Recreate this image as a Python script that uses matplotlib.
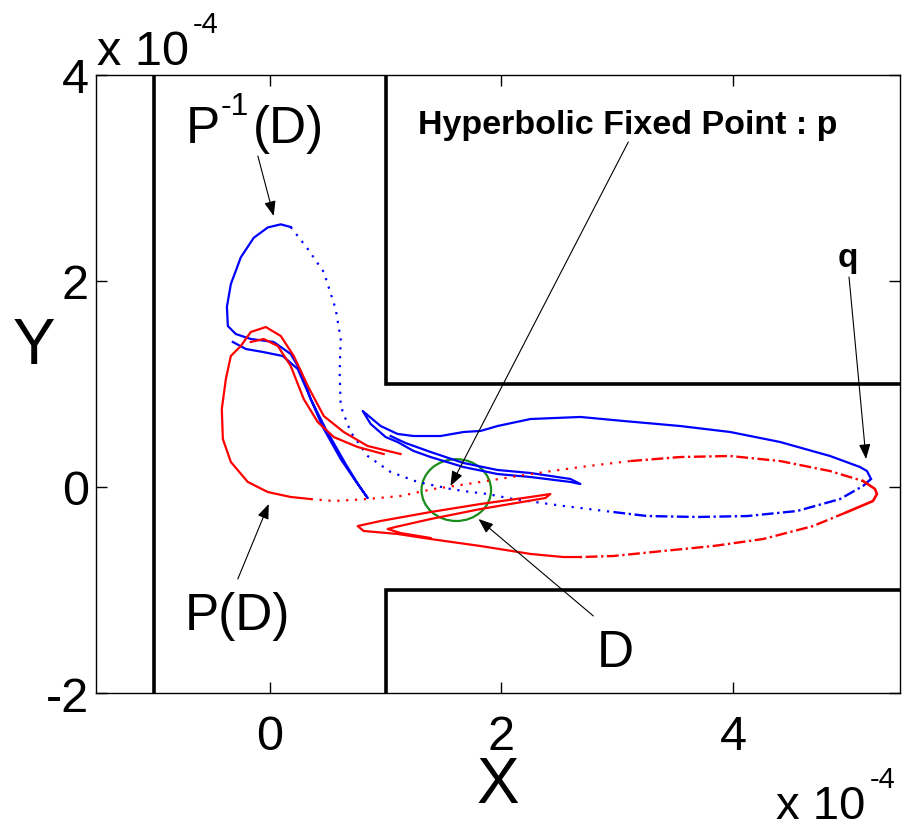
import numpy as np
import matplotlib
matplotlib.use('Agg')
import matplotlib.pyplot as plt
from matplotlib.patches import Ellipse

plt.rcParams['font.family'] = ['Liberation Sans', 'DejaVu Sans']
plt.rcParams['axes.unicode_minus'] = False

# all coordinates in units of 1e-4

# channel walls
wall_left_x = [-1, -1]
wall_left_y = [-2, 4]
wall_top_x = [1, 1, 6]
wall_top_y = [4, 1, 1]
wall_bot_x = [1, 1, 6]
wall_bot_y = [-2, -1, -1]

# P^-1(D): folded S piece, top lobe (solid part)
blue_s_x = [-0.319, -0.207, -0.06, 0.112, 0.241, 0.328, 0.457, 0.612, 0.741, 0.845,
            0.767, 0.655, 0.483, 0.353, 0.267, 0.181, 0.034, -0.164, -0.293, -0.362,
            -0.37, -0.336, -0.25, -0.138, -0.017, 0.095, 0.181]
blue_s_y = [1.408, 1.34, 1.311, 1.272, 1.146, 0.922, 0.583, 0.272, 0.058, -0.107,
            0.019, 0.223, 0.563, 0.854, 1.126, 1.291, 1.408, 1.437, 1.485, 1.563,
            1.75, 1.97, 2.23, 2.42, 2.52, 2.55, 2.524]
# sparse stretch through p
blue_dot_x = [0.181, 0.328, 0.466, 0.569, 0.612, 0.603, 0.612, 0.698, 0.845, 1.043,
              1.276, 1.56, 1.672, 1.879, 2.103, 2.534, 2.966]
blue_dot_y = [2.524, 2.311, 2.087, 1.728, 1.437, 1.117, 0.786, 0.534, 0.301, 0.146,
              0.049, -0.019, -0.039, -0.068, -0.117, -0.184, -0.243]
# lower half of the long lobe out to q
blue_dash_x = [2.966, 3.259, 3.69, 4.121, 4.552, 4.922, 5.121, 5.19]
blue_dash_y = [-0.243, -0.282, -0.291, -0.282, -0.233, -0.117, 0.01, 0.078]
# upper half back from q, hook and fold
blue_up_x = [5.19, 5.155, 5.095, 4.836, 4.405, 3.974, 3.543, 3.052, 2.681, 2.25,
             1.966, 1.819, 1.672, 1.474, 1.241, 1.103, 0.957, 0.802,
             0.871, 1.0, 1.103, 1.241, 1.388, 1.672, 1.966, 2.25, 2.595, 2.681,
             2.595, 2.25, 1.966, 1.672, 1.388, 1.172, 1.043]
blue_up_y = [0.078, 0.155, 0.194, 0.301, 0.437, 0.534, 0.592, 0.641, 0.68, 0.66,
             0.592, 0.544, 0.534, 0.495, 0.495, 0.515, 0.592, 0.738,
             0.612, 0.485, 0.437, 0.35, 0.291, 0.194, 0.126, 0.097, 0.049, 0.029,
             0.078, 0.136, 0.165, 0.233, 0.34, 0.427, 0.495]

# P(D): S piece and left lobe (solid)
red_s_x = [1.129, 0.845, 0.638, 0.466, 0.328, 0.207, 0.095, -0.034, -0.164, -0.25,
           -0.336, -0.379, -0.414, -0.405, -0.336, -0.19, -0.017, 0.181, 0.353]
red_s_y = [0.32, 0.398, 0.534, 0.689, 0.981, 1.272, 1.466, 1.553, 1.505, 1.369,
           1.272, 1.049, 0.757, 0.466, 0.243, 0.049, -0.049, -0.097, -0.117]
red_in_x = [0.983, 0.759, 0.552, 0.414, 0.293, 0.181, 0.069, -0.052, -0.164]
red_in_y = [0.32, 0.388, 0.485, 0.631, 0.854, 1.175, 1.369, 1.437, 1.408]
# sparse stretch through p
red_dot_x = [0.353, 0.552, 0.845, 1.129, 1.414, 1.534, 1.819, 2.25, 2.681, 3.112]
red_dot_y = [-0.117, -0.136, -0.117, -0.087, -0.019, 0.0, 0.049, 0.126, 0.194, 0.252]
red_dash_x = [3.112, 3.543, 3.974, 4.405, 4.836, 5.121]
red_dash_y = [0.252, 0.291, 0.301, 0.252, 0.155, 0.058]
red_tip_x = [5.121, 5.224, 5.241, 5.207, 4.983]
red_tip_y = [0.058, -0.019, -0.068, -0.136, -0.243]
red_low_x = [4.983, 4.69, 4.259, 3.828, 3.397, 2.966, 2.681]
red_low_y = [-0.243, -0.379, -0.505, -0.573, -0.621, -0.67, -0.68]
red_fold_x = [2.681, 2.534, 2.25, 1.819, 1.388, 1.103, 0.81, 0.759, 0.957, 1.388,
              1.819, 2.25, 2.422, 2.379, 1.819, 1.388, 1.086, 1.017, 1.129, 1.388]
red_fold_y = [-0.68, -0.68, -0.65, -0.573, -0.505, -0.456, -0.427, -0.379, -0.33, -0.243,
              -0.165, -0.097, -0.068, -0.107, -0.214, -0.311, -0.388, -0.408, -0.447, -0.495]

# neighbourhood D of the fixed point p
d_center = (1.61, -0.03)
d_size = (0.6, 0.6)

fig = plt.figure(figsize=(9.03, 8.29), dpi=100)
ax = fig.add_axes([96 / 903, 1 - 694 / 829, 804 / 903, 618 / 829])

for wx, wy in [(wall_left_x, wall_left_y), (wall_top_x, wall_top_y), (wall_bot_x, wall_bot_y)]:
    ax.plot(wx, wy, color='k', lw=2.6, solid_joinstyle='miter')

dots = (0, (1, 3))
dashdot = (0, (5, 1.5, 1, 1.5))
ax.plot(blue_s_x, blue_s_y, color='#0000ff', lw=1.6)
ax.plot(blue_dot_x, blue_dot_y, color='#0000ff', lw=1.6, ls=dots)
ax.plot(blue_dash_x, blue_dash_y, color='#0000ff', lw=1.7, ls=dashdot)
ax.plot(blue_up_x, blue_up_y, color='#0000ff', lw=1.6)

ax.plot(red_s_x, red_s_y, color='#ff0000', lw=1.6)
ax.plot(red_in_x, red_in_y, color='#ff0000', lw=1.6)
ax.plot(red_dot_x, red_dot_y, color='#ff0000', lw=1.6, ls=dots)
ax.plot(red_dash_x, red_dash_y, color='#ff0000', lw=1.7, ls=dashdot)
ax.plot(red_tip_x, red_tip_y, color='#ff0000', lw=1.9)
ax.plot(red_low_x, red_low_y, color='#ff0000', lw=1.7, ls=dashdot)
ax.plot(red_fold_x, red_fold_y, color='#ff0000', lw=1.6)

ax.add_patch(Ellipse(d_center, d_size[0], d_size[1], fill=False,
                     edgecolor='#1a8c1a', lw=1.6))

arrow = dict(arrowstyle='-|>,head_length=0.9,head_width=0.35', color='k',
             lw=0.8, shrinkA=0, shrinkB=0)
ax.annotate('', xy=(0.034, 2.631), xytext=(-0.103, 3.214), arrowprops=arrow)
ax.annotate('', xy=(1.56, 0.01), xytext=(3.095, 3.35), arrowprops=arrow)
ax.annotate('', xy=(5.147, 0.272), xytext=(5.0, 2.039), arrowprops=arrow)
ax.annotate('', xy=(-0.009, -0.165), xytext=(-0.276, -0.893), arrowprops=arrow)
ax.annotate('', xy=(1.802, -0.311), xytext=(2.793, -1.252), arrowprops=arrow)

# P^-1(D) built from pieces so the superscript keeps a plain hyphen
ax.text(-0.724, 3.35, 'P', fontsize=37, ha='left', va='baseline')
ax.text(-0.42, 3.62, '-1', fontsize=23, ha='left', va='baseline')
ax.text(-0.15, 3.35, '(D)', fontsize=37, ha='left', va='baseline')
ax.text(3.086, 3.524, 'Hyperbolic Fixed Point : p', fontsize=24.5, fontweight='bold',
        ha='center', va='center')
ax.text(4.99, 2.146, 'q', fontsize=24, fontweight='bold', ha='center', va='baseline')
ax.text(-0.276, -1.379, 'P(D)', fontsize=37, ha='center', va='baseline')
ax.text(2.983, -1.738, 'D', fontsize=37, ha='center', va='baseline')

ax.set_xlim(-1.5, 5.44)
ax.set_ylim(-2, 4)
ax.set_xticks([0, 2, 4])
ax.set_yticks([-2, 0, 2, 4])
ax.tick_params(direction='in', length=8, width=1, top=True, right=True, labelsize=35)
ax.tick_params(axis='x', pad=15)
ax.tick_params(axis='y', pad=5)
for s in ax.spines.values():
    s.set_linewidth(1.0)

ax.set_xlabel('X', fontsize=46, va='center')
ax.xaxis.set_label_coords(0.5, -0.149)
ax.set_ylabel('Y', fontsize=46, rotation=0, ha='center', va='center')
ax.yaxis.set_label_coords(-0.077, 0.561)

# exponent labels for both axes
fig.text(97 / 903, 1 - 65 / 829, 'x 10', fontsize=35, ha='left', va='baseline')
fig.text(193 / 903, 1 - 33 / 829, '-4', fontsize=21, ha='left', va='baseline')
fig.text(776 / 903, 1 - 819 / 829, 'x 10', fontsize=34, ha='left', va='baseline')
fig.text(870 / 903, 1 - 788 / 829, '-4', fontsize=21, ha='left', va='baseline')

fig.savefig('out.png', dpi=100)
